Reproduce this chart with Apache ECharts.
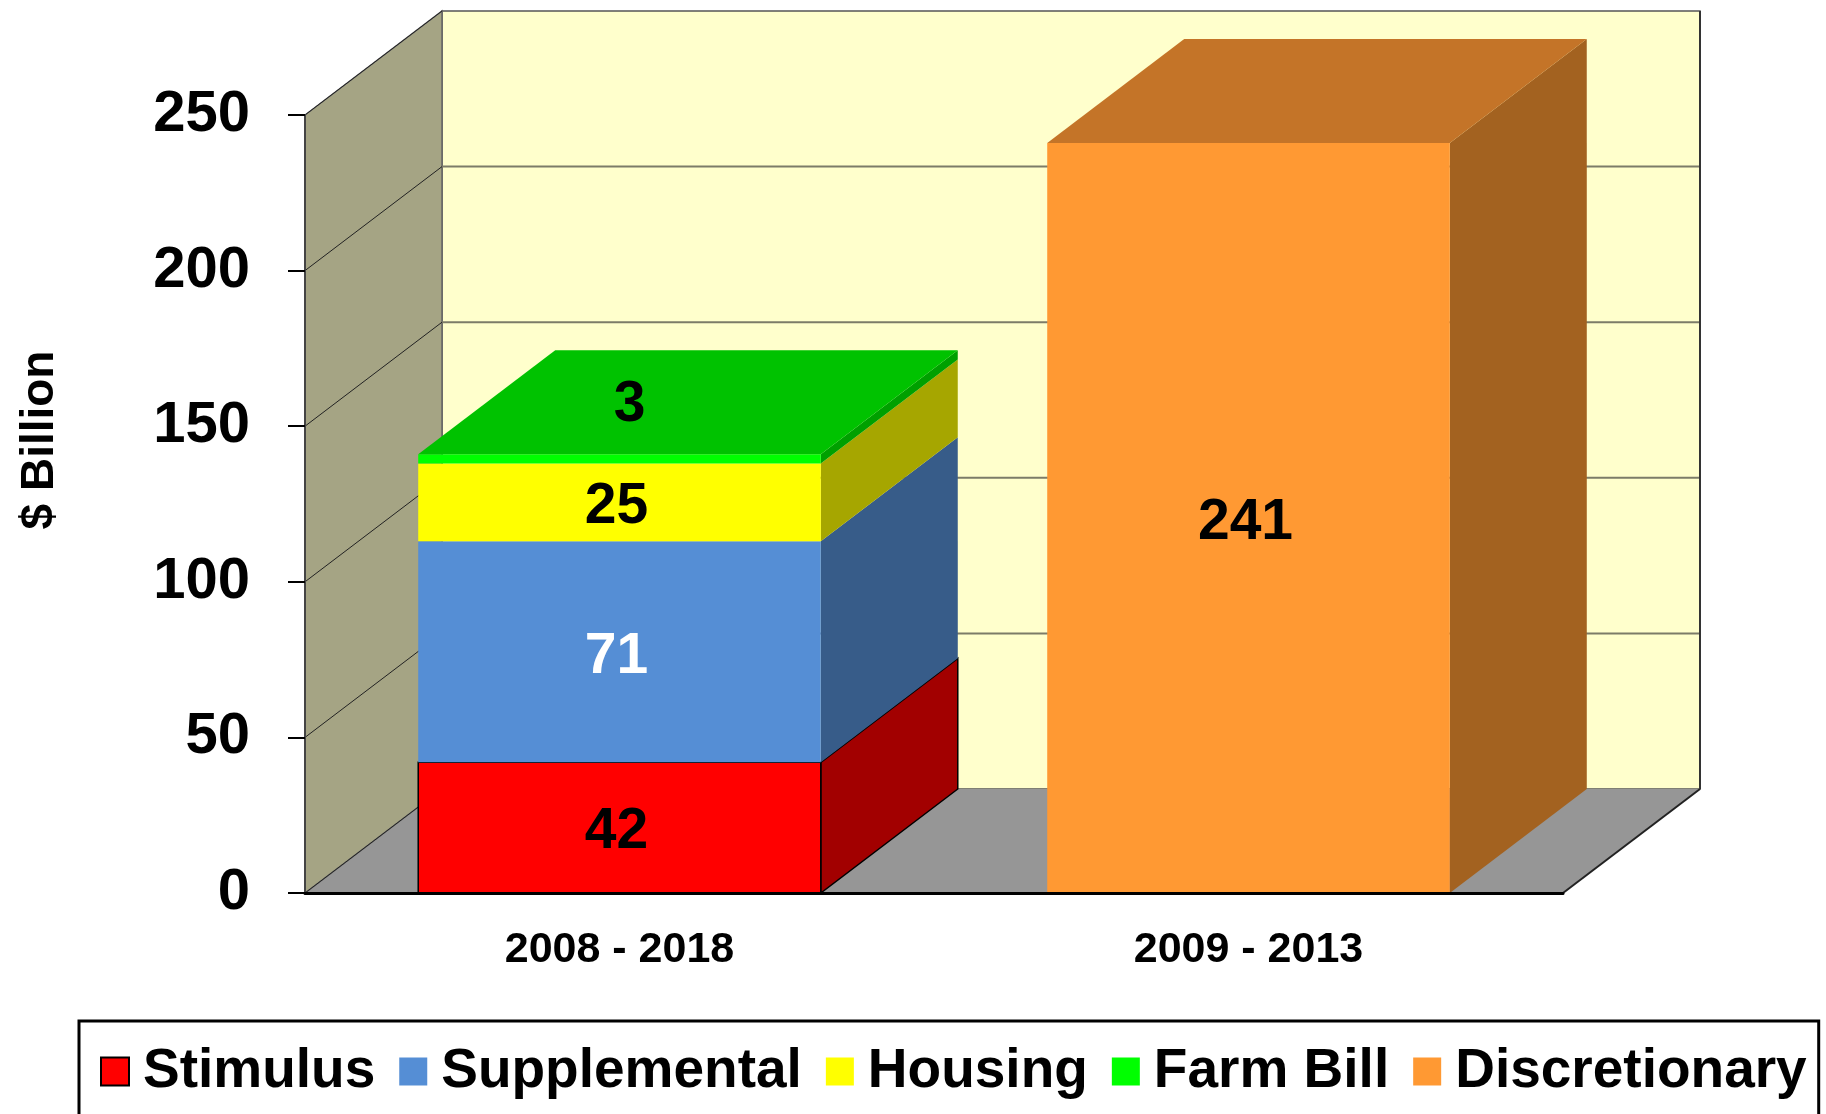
<!DOCTYPE html>
<html>
<head>
<meta charset="utf-8">
<script src="https://cdn.jsdelivr.net/npm/echarts@6/dist/echarts.min.js"></script>
<style>
  html, body { margin: 0; padding: 0; background: #fff; }
  #main { width: 1826px; height: 1114px; }
</style>
</head>
<body>
<div id="main"></div>
<script>
var chartDom = document.getElementById('main');
var myChart = echarts.init(chartDom);
var option;

var FONT = 'Arial, "Liberation Sans", sans-serif';

// data
var categories = ['2008 - 2018', '2009 - 2013'];
var seriesNames = ['Stimulus', 'Supplemental', 'Housing', 'Farm Bill', 'Discretionary'];
var stimulus = [42, 0];
var supplemental = [71, 0];
var housing = [25, 0];
var farmBill = [3, 0];
var discretionary = [0, 241];
var yTicks = [0, 50, 100, 150, 200, 250];

// face colours: front, side, top
var faces = [
    { front: '#FF0000', side: '#A20000', top: '#C00000', label: '#000', edge: '#000' },
    { front: '#558ED5', side: '#375C89', top: '#4470AA', label: '#fff', edge: null },
    { front: '#FFFF00', side: '#A6A600', top: '#CCCC00', label: '#000', edge: null },
    { front: '#00FF00', side: '#00A000', top: '#00C200', label: '#000', edge: null },
    { front: '#FF9933', side: '#A36220', top: '#C47428', label: '#000', edge: null }
];

// depth of the 3d box in pixels
var DX = 137;
var DY = -104;
var BAR_RATIO = 0.64;

var values = [stimulus, supplemental, housing, farmBill, discretionary];

// stack segments per category
var totals = categories.map(function (c, i) {
    var t = 0;
    values.forEach(function (v) { t += v[i]; });
    return t;
});
var segData = values.map(function () { return []; });
categories.forEach(function (c, i) {
    var base = 0;
    values.forEach(function (v, s) {
        if (v[i] > 0) {
            segData[s].push([i, base, base + v[i], v[i]]);
            base += v[i];
        }
    });
});

function poly(points, fill, stroke) {
    return {
        type: 'polygon',
        shape: { points: points },
        style: { fill: fill, stroke: stroke || null, lineWidth: stroke ? 1.5 : 0 }
    };
}

function makeSegment(s) {
    return function (params, api) {
        var cat = api.value(0);
        var p0 = api.coord([cat, api.value(1)]);
        var p1 = api.coord([cat, api.value(2)]);
        var w = api.size([1, 0])[0] * BAR_RATIO;
        var x0 = p0[0] - w / 2, x1 = p0[0] + w / 2;
        var yb = p0[1], yt = p1[1];
        var f = faces[s];
        var kids = [];
        kids.push(poly([[x1, yb], [x1, yt], [x1 + DX, yt + DY], [x1 + DX, yb + DY]], f.side, f.edge));
        kids.push({
            type: 'rect',
            shape: { x: x0, y: yt, width: w, height: yb - yt },
            style: { fill: f.front, stroke: f.edge, lineWidth: f.edge ? 1.5 : 0 }
        });
        var isTop = api.value(2) === totals[cat];
        if (isTop) {
            kids.push(poly([[x0, yt], [x1, yt], [x1 + DX, yt + DY], [x0 + DX, yt + DY]], f.top, f.edge));
        }
        // thin segment: label sits on the top face
        var thin = (yb - yt) < 40;
        kids.push({
            type: 'text',
            x: thin ? p0[0] + 10 : p0[0] - 3,
            y: thin ? yt + DY / 2 + 3 : (yb + yt) / 2 + 5,
            style: {
                text: String(api.value(3)),
                fill: f.label,
                font: 'bold 57px ' + FONT,
                align: 'center',
                verticalAlign: 'middle'
            }
        });
        return { type: 'group', children: kids };
    };
}

function renderWalls(params, api) {
    var cs = params.coordSys;
    var gx = cs.x, gy = cs.y, gw = cs.width, gh = cs.height;
    var bot = gy + gh;
    var kids = [];
    kids.push({
        type: 'rect',
        shape: { x: gx + DX, y: gy + DY, width: gw, height: gh },
        style: { fill: '#FFFFCC', stroke: '#555', lineWidth: 1.5 }
    });
    kids.push(poly([[gx, bot], [gx + gw, bot], [gx + gw + DX, bot + DY], [gx + DX, bot + DY]], '#969696'));
    kids.push(poly([[gx, bot], [gx, gy], [gx + DX, gy + DY], [gx + DX, bot + DY]], '#A5A484', '#666'));
    yTicks.forEach(function (t) {
        var y = api.coord([0, t])[1];
        if (t > 0 && t < yTicks[yTicks.length - 1]) {
            kids.push({
                type: 'line',
                shape: { x1: gx + DX, y1: y + DY, x2: gx + gw + DX, y2: y + DY },
                style: { stroke: '#7C7C68', lineWidth: 2 }
            });
        }
        kids.push({
            type: 'line',
            shape: { x1: gx, y1: y, x2: gx + DX, y2: y + DY },
            style: { stroke: '#222', lineWidth: 1 }
        });
    });
    // right floor edge
    kids.push({
        type: 'line',
        shape: { x1: gx + gw, y1: bot, x2: gx + gw + DX, y2: bot + DY },
        style: { stroke: '#222', lineWidth: 2 }
    });
    kids.push({
        type: 'line',
        shape: { x1: gx + gw + DX, y1: gy + DY, x2: gx + gw + DX, y2: bot + DY },
        style: { stroke: '#333', lineWidth: 2 }
    });
    return { type: 'group', children: kids };
}

var series = [{
    type: 'custom',
    name: 'walls',
    z: 1,
    silent: true,
    renderItem: renderWalls,
    data: [[0, 0]],
    encode: { x: 0, y: 1 }
}];
seriesNames.forEach(function (name, s) {
    series.push({
        type: 'custom',
        name: name,
        z: 2,
        renderItem: makeSegment(s),
        itemStyle: { color: faces[s].front },
        encode: { x: 0, y: [1, 2] },
        data: segData[s]
    });
});

option = {
    animation: false,
    grid: {
        left: 305,
        right: 263,
        top: 115,
        bottom: 221,
        containLabel: false,
        outerBoundsMode: 'none'
    },
    xAxis: {
        type: 'category',
        data: categories,
        z: 10,
        axisTick: { show: false },
        axisLine: { lineStyle: { color: '#000', width: 3 } },
        axisLabel: {
            margin: 36,
            color: '#000',
            fontSize: 43,
            fontWeight: 'bold',
            fontFamily: FONT
        }
    },
    yAxis: {
        type: 'value',
        min: 0,
        max: 250,
        interval: 50,
        z: 10,
        splitLine: { show: false },
        axisLine: { show: true, lineStyle: { color: '#444', width: 2 } },
        axisTick: { show: true, length: 17, lineStyle: { color: '#000', width: 2 } },
        axisLabel: {
            margin: 55,
            color: '#000',
            fontSize: 58,
            fontWeight: 'bold',
            fontFamily: FONT,
            padding: [5, 0, 0, 0],
            formatter: function (v) { return yTicks.indexOf(v) >= 0 ? String(v) : ''; }
        }
    },
    legend: {
        left: 79,
        top: 1021,
        width: 1740,
        icon: 'rect',
        itemWidth: 28,
        itemHeight: 28,
        itemGap: 24,
        borderColor: '#000',
        borderWidth: 3,
        padding: [23, 12, 60, 21],
        textStyle: {
            color: '#000',
            fontSize: 55,
            fontWeight: 'bold',
            fontFamily: FONT,
            padding: [0, 0, 0, 9]
        },
        data: [
            { name: 'Stimulus', itemStyle: { borderColor: '#000', borderWidth: 2 } },
            'Supplemental', 'Housing', 'Farm Bill', 'Discretionary'
        ]
    },
    graphic: [{
        type: 'text',
        x: 40,
        y: 440,
        rotation: Math.PI / 2,
        style: {
            text: '$ Billion',
            fill: '#000',
            font: 'bold 46px ' + FONT,
            align: 'center',
            verticalAlign: 'middle'
        }
    }],
    series: series
};

option && myChart.setOption(option);
</script>
</body>
</html>
